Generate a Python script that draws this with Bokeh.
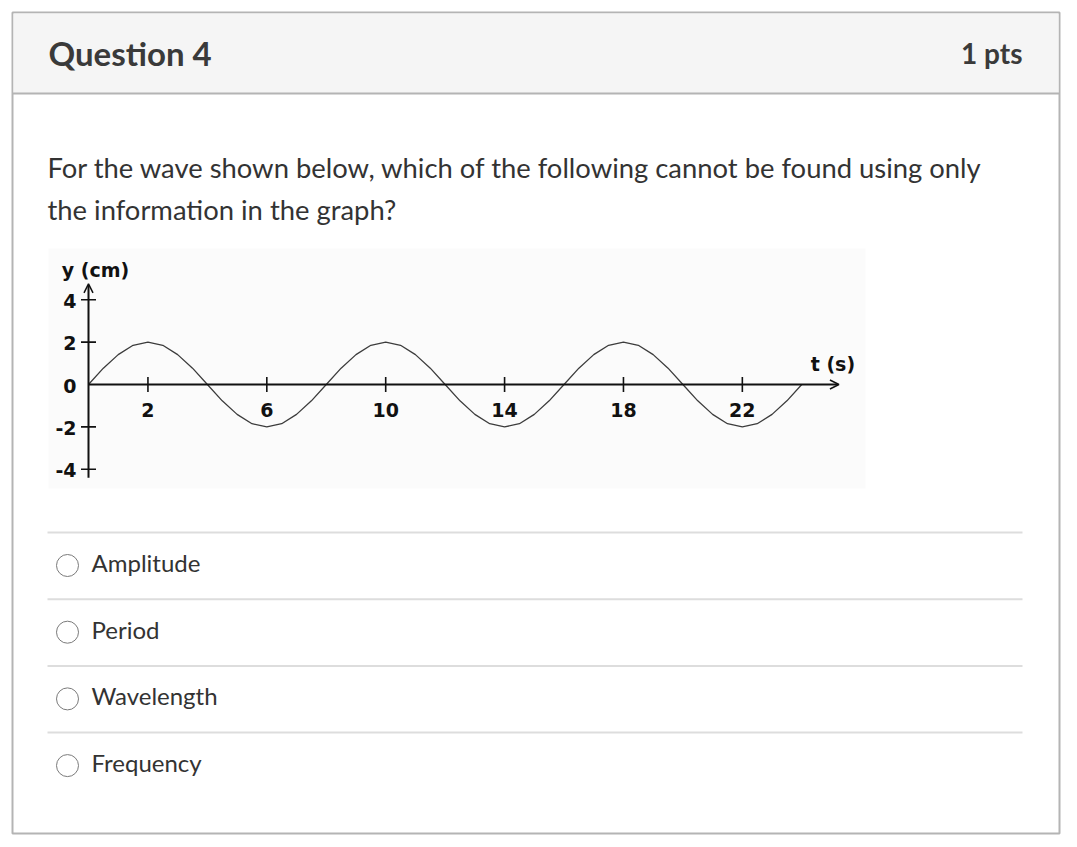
from bokeh.plotting import figure
from bokeh.models import Range1d, Arrow, OpenHead
from bokeh.core.properties import value
from bokeh.embed import file_html
from bokeh.resources import INLINE

# ---------------- data ----------------
title = "Question 4"
points_label = "1 pts"
question_lines = [
    "For the wave shown below, which of the following cannot be found using only",
    "the information in the graph?",
]
options = ["Amplitude", "Period", "Wavelength", "Frequency"]

wave_t = [0.0, 0.5, 1.0, 1.5, 2.0, 2.5, 3.0, 3.5, 4.0, 4.5, 5.0, 5.5, 6.0, 6.5, 7.0, 7.5,
          8.0, 8.5, 9.0, 9.5, 10.0, 10.5, 11.0, 11.5, 12.0, 12.5, 13.0, 13.5, 14.0, 14.5, 15.0, 15.5,
          16.0, 16.5, 17.0, 17.5, 18.0, 18.5, 19.0, 19.5, 20.0, 20.5, 21.0, 21.5, 22.0, 22.5, 23.0, 23.5,
          24.0]
wave_y = [0, 0.77, 1.41, 1.85, 2, 1.85, 1.41, 0.77, 0, -0.77, -1.41, -1.85, -2, -1.85, -1.41, -0.77,
          0, 0.77, 1.41, 1.85, 2, 1.85, 1.41, 0.77, 0, -0.77, -1.41, -1.85, -2, -1.85, -1.41, -0.77,
          0, 0.77, 1.41, 1.85, 2, 1.85, 1.41, 0.77, 0, -0.77, -1.41, -1.85, -2, -1.85, -1.41, -0.77,
          0]

x_tick_values = [2, 6, 10, 14, 18, 22]
x_tick_labels = ["2", "6", "10", "14", "18", "22"]
y_tick_values = [-4, -2, 2, 4]
y_label_values = [4, 2, 0, -2, -4]
y_label_texts = ["4", "2", "0", "-2", "-4"]
x_axis_end = 25.25
y_axis_top = 4.75
y_axis_bottom = -4.4
x_title = "t (s)"
y_title = "y (cm)"

# ---------------- layout (page pixels) ----------------
W, H = 1069, 839
OX, OY = 0, 0
# wave chart placement on the page
T0_PX, PX_PER_T = 88.0, 29.72
Y0_PX, PX_PER_Y = 384.0, 21.2

TEXT = "#333333"
LATO = value("Lato")
PIXF = value("DejaVu Sans")

p = figure(width=W, height=H, output_backend="svg", toolbar_location=None,
           x_range=Range1d(OX, OX + W), y_range=Range1d(OY + H, OY),
           x_axis_location=None, y_axis_location=None, min_border=0,
           background_fill_color="white", border_fill_color="white")
p.grid.visible = False
p.outline_line_color = None

t_lo = (OX - T0_PX) / PX_PER_T
t_hi = (OX + W - T0_PX) / PX_PER_T
w_lo = (Y0_PX - (OY + H)) / PX_PER_Y
w_hi = (Y0_PX - OY) / PX_PER_Y
p.extra_x_ranges = {"t": Range1d(t_lo, t_hi)}
p.extra_y_ranges = {"w": Range1d(w_lo, w_hi)}

# card
p.quad(left=[12], right=[1059], top=[12], bottom=[833], fill_color="white",
       line_color="#b4b4b4", line_width=2)
p.quad(left=[13], right=[1058], top=[13], bottom=[93], fill_color="#f5f5f5", line_color=None)
p.segment(x0=[12], x1=[1059], y0=[93], y1=[93], line_color="#b4b4b4", line_width=2)

p.text(x=[48], y=[52.5], text=[title], text_font=LATO, text_font_size="33px",
       text_font_style="bold", text_color="#3a3a3a", text_baseline="middle")
p.text(x=[1022], y=[52.5], text=[points_label], text_font=LATO, text_font_size="28px",
       text_font_style="bold", text_color="#3a3a3a", text_align="right", text_baseline="middle")

p.text(x=[47] * len(question_lines), y=[166.5 + 42 * i for i in range(len(question_lines))],
       text=question_lines, text_font=LATO, text_font_size="27.4px", text_color=TEXT,
       text_baseline="middle")

# chart image background
p.quad(left=[48], right=[865], top=[248], bottom=[488], fill_color="#fbfbfb", line_color=None)

# wave
p.line(wave_t, wave_y, x_range_name="t", y_range_name="w", line_color="#3c3c3c", line_width=1.3)

# axes
p.add_layout(Arrow(end=OpenHead(size=9, line_width=1.5, line_color="#111111"),
                   x_start=0, y_start=0, x_end=x_axis_end, y_end=0,
                   x_range_name="t", y_range_name="w", line_width=2, line_color="#111111"))
p.add_layout(Arrow(end=OpenHead(size=9, line_width=1.5, line_color="#111111"),
                   x_start=0, y_start=y_axis_bottom, x_end=0, y_end=y_axis_top,
                   x_range_name="t", y_range_name="w", line_width=2, line_color="#111111"))
p.scatter(x=x_tick_values, y=[0] * len(x_tick_values), marker="dash", size=15, angle=1.5708,
          line_color="#111111", line_width=1.6, x_range_name="t", y_range_name="w")
p.scatter(x=[0] * len(y_tick_values), y=y_tick_values, marker="dash", size=15,
          line_color="#111111", line_width=1.6, x_range_name="t", y_range_name="w")

p.text(x=x_tick_values, y=[0] * len(x_tick_values), text=x_tick_labels, x_range_name="t",
       y_range_name="w", y_offset=25, text_align="center", text_baseline="middle",
       text_font=PIXF, text_font_size="19px", text_font_style="bold", text_color="#111111")
p.text(x=[0] * len(y_label_values), y=y_label_values, text=y_label_texts, x_range_name="t",
       y_range_name="w", x_offset=-12, y_offset=1, text_align="right", text_baseline="middle",
       text_font=PIXF, text_font_size="19px", text_font_style="bold", text_color="#111111")
p.text(x=[0], y=[y_axis_top], text=[y_title], x_range_name="t", y_range_name="w",
       x_offset=7, y_offset=-14, text_align="center", text_baseline="middle",
       text_font=PIXF, text_font_size="19px", text_font_style="bold", text_color="#111111")
p.text(x=[x_axis_end], y=[0], text=[x_title], x_range_name="t", y_range_name="w",
       x_offset=-6, y_offset=-21, text_align="center", text_baseline="middle",
       text_font=PIXF, text_font_size="19px", text_font_style="bold", text_color="#111111")

# options
step = 66.7
sep_y = [532 + step * i for i in range(len(options))]
p.segment(x0=[47] * len(options), x1=[1022] * len(options), y0=sep_y, y1=sep_y,
          line_color="#dddddd", line_width=2)
p.scatter(x=[67] * len(options), y=[565 + step * i for i in range(len(options))],
          marker="circle", size=22, fill_color="white", line_color="#7a7a7a", line_width=1)
p.text(x=[91] * len(options), y=[562 + step * i for i in range(len(options))], text=options,
       text_font=LATO, text_font_size="24px", text_color=TEXT, text_baseline="middle")

open("out.html", "w").write(file_html(p, INLINE))
